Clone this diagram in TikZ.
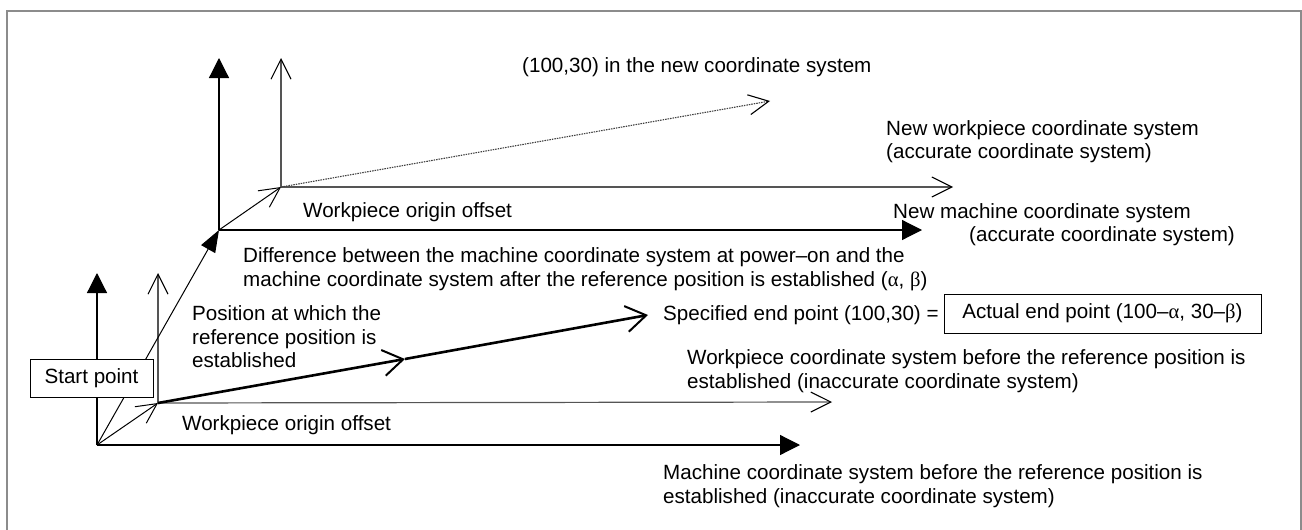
\documentclass[tikz,border=0pt]{standalone}
\usepackage{fontspec}
\setmainfont{Liberation Sans}
\newfontfamily\grk{Liberation Serif}
\usepackage{tikz}
\usetikzlibrary{
  arrows.meta,
  positioning,
  calc
}
\definecolor{csFrame}{HTML}{8C8C8C}
\definecolor{csWork}{HTML}{555555}
\tikzset{
  frame/.style={draw=csFrame, line width=1.6pt},
  maxis/.style={line width=1.2pt, black, -{Triangle[length=20pt, width=20pt]}},
  waxis/.style={line width=1.2pt, csWork, -{Straight Barb[length=20pt, width=20pt, line width=1.1pt, color=black]}},
  shiftm/.style={line width=1pt, black, -{Triangle[length=22pt, width=16pt]}},
  shiftw/.style={line width=1pt, black, -{Straight Barb[length=20pt, width=20pt, line width=1pt]}},
  travel/.style={line width=2.6pt, black, -{Straight Barb[length=20pt, width=26pt, line width=2pt]}},
  newpath/.style={line width=1.1pt, black!75, dash pattern=on 1.5pt off 1pt, -{Straight Barb[length=20pt, width=20pt, line width=1.1pt, color=black]}},
  lbl/.style={font=\fontsize{20.6}{23.5}\selectfont, inner sep=0pt, align=left, anchor=west},
  tagbox/.style={draw, line width=1pt, fill=white, font=\fontsize{20.6}{23.5}\selectfont, inner sep=0pt}
}
\newcommand{\al}{{\grk α}}
\newcommand{\be}{{\grk β}}

\begin{document}
\begin{tikzpicture}[x=1pt, y=-1pt]
  \useasboundingbox (0,0) rectangle (1302,530);
  \draw[frame] (7,532) -- (7,11) -- (1301,11) -- (1301,532);

  \coordinate (mo) at (97,445);
  \coordinate (wo) at (158,403);
  \coordinate (nmo) at (219,230);
  \coordinate (nwo) at (281,187);
  \coordinate (mx) at (800,445);
  \coordinate (my) at (97,273);
  \coordinate (wx) at (832,402);
  \coordinate (wy) at (158,273);
  \coordinate (nmx) at (922,230);
  \coordinate (nmy) at (219,58);
  \coordinate (nwx) at (953,187);
  \coordinate (nwy) at (281,58);
  \coordinate (mid) at (405,359);
  \coordinate (endpt) at (648,315);
  \coordinate (newend) at (770,101);

  \draw[maxis] (mo) -- (mx);
  \draw[maxis] (mo) -- (my);
  \draw[waxis] (wo) -- (wx);
  \draw[waxis] (wo) -- (wy);
  \draw[maxis] (nmo) -- (nmx);
  \draw[maxis] (nmo) -- (nmy);
  \draw[waxis] (nwo) -- (nwx);
  \draw[waxis] (nwo) -- (nwy);
  \draw[shiftm] (mo) -- (nmo);
  \draw[shiftw] (mo) -- (wo);
  \draw[shiftw] (nmo) -- (nwo);
  \draw[travel] (wo) -- (mid);
  \draw[travel] (mid) -- (endpt);
  \draw[newpath] (nwo) -- (newend);

  \node[tagbox, minimum width=123pt, minimum height=38pt] (start) at (91.5,378) {Start point};
  \node[lbl] (newpos) at (522,67) {(100,30) in the new coordinate system};
  \node[lbl] (nwcs) at (886,141.5) {New workpiece coordinate system\\(accurate coordinate system)};
  \node[lbl] (woff2) at (303,212) {Workpiece origin offset};
  \node[lbl] (nmcs) at (893,224.5) {New machine coordinate system\\\hspace*{76pt}(accurate coordinate system)};
  \node[lbl] (diff) at (243,269) {Difference between the machine coordinate system at power--on and the\\machine coordinate system after the reference position is established (\al, \be)};
  \node[lbl] (refpos) at (192,337) {Position at which the\\reference position is\\established};
  \node[lbl] (spec) at (663,315) {Specified end point (100,30) =};
  \node[tagbox, minimum width=317pt, minimum height=39pt] (actual) at (1102.5,313.5) {Actual end point (100--\al, 30--\be)};
  \node[lbl] (wcs) at (687,371) {Workpiece coordinate system before the reference position is\\established (inaccurate coordinate system)};
  \node[lbl] (woff1) at (182,425) {Workpiece origin offset};
  \node[lbl] (mcs) at (663,486) {Machine coordinate system before the reference position is\\established (inaccurate coordinate system)};
\end{tikzpicture}
\end{document}
